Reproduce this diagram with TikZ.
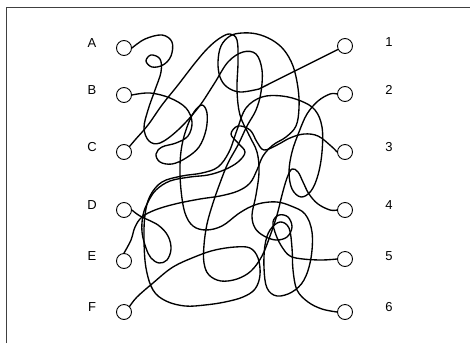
\documentclass[tikz,border=0pt]{standalone}
\usepackage{fontspec}
\setmainfont{Liberation Sans}
\usepackage{tikz}
\usetikzlibrary{positioning}

\begin{document}
\begin{tikzpicture}[
    x=1pt, y=-1pt,
    font=\fontsize{13}{15}\selectfont,
    ring/.style={draw, circle, minimum size=15pt, inner sep=0pt, line width=0.9pt},
    wire/.style={line width=1.35pt, line join=round, line cap=round},
    lbl/.style={inner sep=0pt}
]
\useasboundingbox (0,0) rectangle (470,343);
\draw[black!75, line width=0.8pt] (6,343) -- (6,7) -- (470,7);

% left and right ends
\foreach \n/\y in {A/48, B/95, C/152, D/210, E/261, F/312}
  \node[ring] (\n) at (124,\y) {};
\foreach \n/\y in {1/46, 2/94, 3/152, 4/210, 5/259, 6/312}
  \node[ring] (r\n) at (345,\y) {};

\foreach \n/\y in {A/43, B/90, C/147, D/205, E/256, F/307}
  \node[lbl] (l\n) at (92,\y) {\n};
\foreach \n/\y in {1/42, 2/90, 3/147, 4/205, 5/256, 6/307}
  \node[lbl] (lr\n) at (389,\y) {\n};

% A to 4
\draw[wire] plot[smooth, tension=0.6] coordinates {(A.east) (145,39) (162,35) (172,42) (171,56) (163,65) (152,67) (146,61) (151,55) (160,59) (161,72) (155,90) (148,110) (144,128) (149,141) (160,143) (178,130) (198,108) (214,84) (228,62) (243,52) (256,54) (262,70) (261,92) (256,110) (247,126) (238,145) (228,163) (220,183) (213,203) (207,224) (204,245) (204,263) (209,275) (221,281) (237,279) (251,271) (262,256) (270,236) (277,215) (282,195) (287,178) (292,169) (298,172) (303,182) (309,194) (318,204) (330,210) (r4.west)};

% B to 6
\draw[wire] plot[smooth, tension=0.6] coordinates {(B.east) (150,93) (170,98) (186,108) (192,122) (188,136) (176,143) (162,147) (156,154) (160,162) (172,164) (186,158) (199,147) (206,130) (207,113) (202,105) (194,112) (187,127) (182,145) (180,165) (181,190) (185,213) (193,226) (206,230) (222,226) (238,214) (250,207) (262,203) (277,202) (291,206) (305,214) (312,232) (311,258) (304,280) (292,292) (277,296) (267,288) (264,268) (265,245) (270,230) (280,222) (289,228) (292,248) (293,270) (297,290) (308,302) (322,309) (r6.west)};

% C to 5
\draw[wire] plot[smooth, tension=0.6] coordinates {(C.north east) (135,140) (148,125) (162,105) (178,85) (195,63) (208,48) (220,38) (230,34) (237,40) (238,62) (237,90) (240,115) (249,135) (257,152) (259,172) (256,195) (252,215) (255,228) (264,236) (276,240) (287,237) (292,227) (288,217) (279,215) (273,222) (276,235) (282,247) (290,256) (303,259) (322,260) (r5.west)};

% D to 3
\draw[wire] plot[smooth, tension=0.6] coordinates {(D.east) (140,216) (158,225) (168,236) (171,249) (167,260) (159,263) (151,258) (146,248) (142,232) (143,215) (148,202) (156,190) (170,181) (190,177) (208,175) (224,170) (238,162) (245,152) (238,143) (231,134) (238,126) (250,130) (257,142) (264,150) (277,145) (290,138) (304,134) (318,136) (331,146) (r3.west)};

% E to 1
\draw[wire] plot[smooth, tension=0.6] coordinates {(E.north) (131,240) (135,227) (142,217) (155,210) (175,204) (200,199) (220,196) (238,191) (250,183) (257,170) (263,156) (273,145) (286,137) (296,126) (299,108) (298,88) (293,66) (284,50) (272,40) (257,34) (242,33) (230,36) (221,46) (218,62) (220,77) (227,87) (240,92) (259,89)} -- (r1.206);

% F to 2
\draw[wire] plot[smooth, tension=0.6] coordinates {(F.north east) (137,297) (153,283) (173,267) (197,256) (215,250) (235,247) (250,248) (258,258) (260,275) (255,289) (243,297) (225,302) (205,305) (185,306) (166,301) (153,290) (146,268) (144,240) (145,215) (150,196) (162,182) (182,176) (202,173) (218,167) (229,152) (237,130) (246,108) (262,97) (282,96) (301,101) (315,110) (322,127) (322,152) (318,175) (311,191) (301,197) (292,189) (289,172) (292,152) (299,132) (307,114) (318,101) (330,94) (r2.west)};
\end{tikzpicture}
\end{document}
